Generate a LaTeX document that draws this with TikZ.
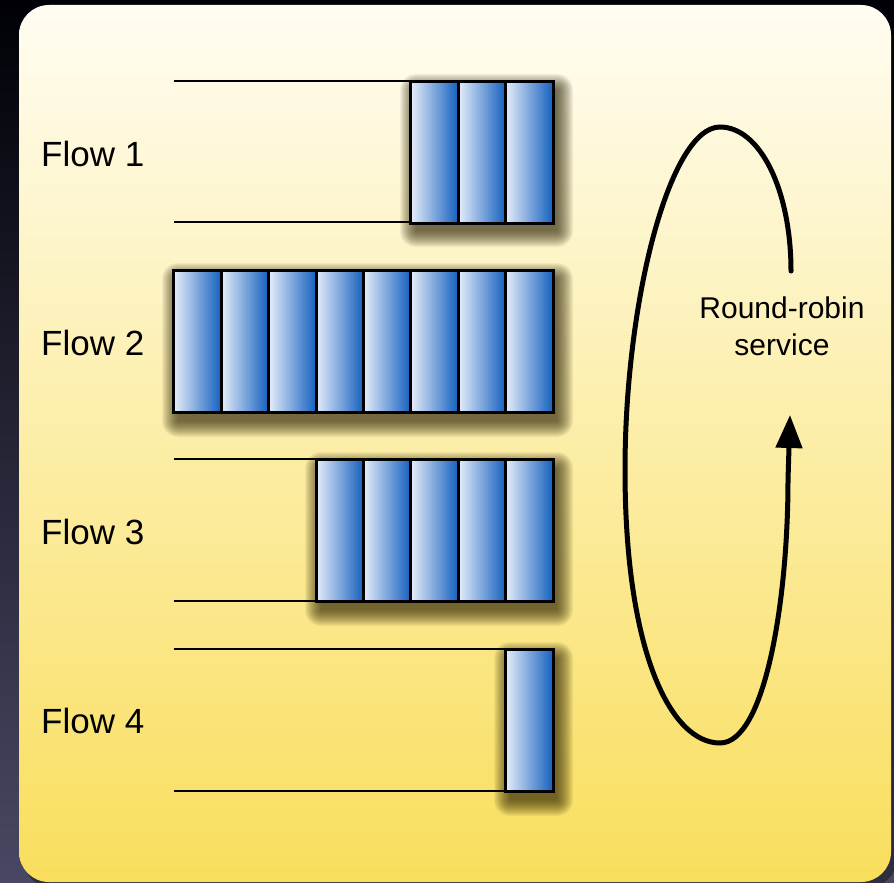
\documentclass[tikz,border=0pt]{standalone}
\usepackage{fontspec}
\setmainfont{Liberation Sans}
\usetikzlibrary{arrows.meta}
\definecolor{bgtop}{RGB}{0,0,6}
\definecolor{bgbot}{RGB}{72,72,100}
\definecolor{pTop}{RGB}{255,253,242}
\definecolor{pMid}{RGB}{251,233,148}
\definecolor{pBot}{RGB}{249,222,92}
\definecolor{cellL}{RGB}{230,237,250}
\definecolor{cellM}{RGB}{95,140,206}
\definecolor{cellR}{RGB}{20,96,190}
\definecolor{shadowc}{RGB}{40,30,0}
\tikzset{
  cell/.style={draw=black, line width=3pt, minimum width=47.4pt, minimum height=142pt,
    inner sep=0pt, outer sep=0pt, left color=cellL, middle color=cellM, right color=cellR},
  rail/.style={line width=2.2pt, black},
  shadowlayer/.style={fill=shadowc, opacity=0.055},
  flowlabel/.style={anchor=west, inner sep=0pt, font=\fontsize{35}{40}\selectfont},
  looppath/.style={line width=5pt, black, line cap=round}
}
\newcommand\groupshadow[4]{%
  \foreach \k in {0,...,16}
    \fill[shadowlayer, rounded corners=\k pt] ({#1+4-\k},{#2+9-\k}) rectangle ({#3+4+\k},{#4+9+\k});
}
\begin{document}
\begin{tikzpicture}[x=1pt,y=-1pt]
\useasboundingbox (0,0) rectangle (894,883);
\shade[top color=bgtop, bottom color=bgbot] (0,0) rectangle (894,883);
\fill[black, opacity=0.35, rounded corners=30pt] (23,10) rectangle (897,888);
\shade[top color=pTop, middle color=pMid, bottom color=pBot, rounded corners=30pt] (19,5) rectangle (891,882);

% rails
\foreach \y in {81,222,270,412,459,601,649,791}
  \draw[rail] (174,\y) -- (553,\y);

% shadows of the cell groups
\groupshadow{412}{81}{553}{222}
\groupshadow{174}{270}{553}{412}
\groupshadow{317}{459}{553}{601}
\groupshadow{506}{649}{553}{791}

% cells
\foreach \i in {1,...,3}
  \node[cell] (fa\i) at ({553-47.4*(\i-0.5)},152) {};
\foreach \i in {1,...,8}
  \node[cell] (fb\i) at ({553-47.4*(\i-0.5)},341) {};
\foreach \i in {1,...,5}
  \node[cell] (fc\i) at ({553-47.4*(\i-0.5)},530) {};
\node[cell] (fd1) at ({553-47.4*0.5},720) {};

% labels
\node[flowlabel] (flow1) at (41,154) {Flow 1};
\node[flowlabel] (flow2) at (41,343) {Flow 2};
\node[flowlabel] (flow3) at (41,532) {Flow 3};
\node[flowlabel] (flow4) at (41,721) {Flow 4};
\node[align=center, inner sep=0pt, font=\fontsize{30}{37}\selectfont] (rr) at (782,326) {Round-robin\\service};

% loop
\coordinate (ls) at (791,271);
\coordinate (ltop) at (720,127);
\coordinate (lleft) at (625,470);
\coordinate (lbot) at (720,743);
\coordinate (lr) at (788,480);
\coordinate (lend) at (790,415);
\draw[looppath, -{Triangle[length=33pt,width=26pt]}] (ls) .. controls (791,190) and (760,127) .. (ltop)
  .. controls (670,127) and (625,300) .. (lleft)
  .. controls (625,650) and (670,743) .. (lbot)
  .. controls (765,743) and (788,600) .. (lr) -- (lend);
\end{tikzpicture}
\end{document}
